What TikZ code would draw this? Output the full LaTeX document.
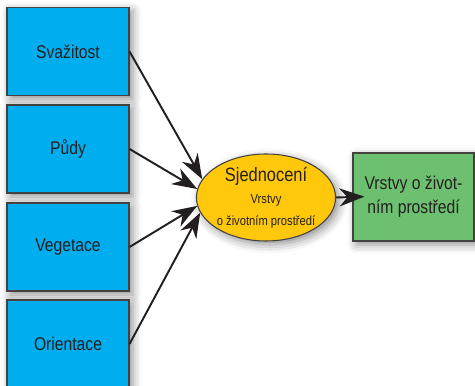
\documentclass[tikz,border=0pt]{standalone}
\usepackage{fontspec}
\setmainfont[FakeStretch=0.85]{Liberation Sans}
\usepackage{xcolor}
\usetikzlibrary{arrows.meta,shapes.geometric,shadows.blur}

\definecolor{vrstvablue}{RGB}{0,174,239}
\definecolor{vrstvayellow}{RGB}{255,200,10}
\definecolor{vrstvagreen}{RGB}{108,192,112}
\definecolor{textgray}{RGB}{35,31,32}

\begin{document}
\begin{tikzpicture}[
		font=\fontsize{10.5}{13.6}\selectfont, text=textgray,
		vstup/.style={draw=textgray!85, line width=0.6pt, fill=vrstvablue, minimum width=2.44cm, minimum height=1.76cm, inner sep=0pt,
			blur shadow={shadow xshift=2pt, shadow yshift=-2pt, shadow blur radius=5pt, shadow opacity=45}},
		sjed/.style={ellipse, draw=textgray!85, line width=0.6pt, fill=vrstvayellow, minimum width=2.68cm, minimum height=1.74cm, inner sep=0pt, align=center,
			blur shadow={shadow xshift=2pt, shadow yshift=-2pt, shadow blur radius=5pt, shadow opacity=45}},
		vystup/.style={draw=textgray!85, line width=0.6pt, fill=vrstvagreen, minimum width=2.42cm, minimum height=1.76cm, inner sep=0pt, align=center,
			blur shadow={shadow xshift=2pt, shadow yshift=-2pt, shadow blur radius=5pt, shadow opacity=45}},
		sipka/.style={-{Stealth[length=0.5cm, width=0.36cm, inset=0.16cm]}, line width=1.1pt, draw=textgray}
	]
	\useasboundingbox (0,0) rectangle (9.5,-7.72);
	
	% Input layers
	\node (svaz) at (1.36,-1.03) [vstup] {Svažitost};
	\node (pudy) at (1.36,-2.98) [vstup] {Půdy};
	\node (vege) at (1.36,-4.94) [vstup] {Vegetace};
	\node (orie) at (1.36,-6.88) [vstup] {Orientace};
	
	% Union
	\node (sjed) at (5.32,-3.95) [sjed] {{\fontsize{11}{13}\selectfont Sjednocení}\\[-1pt]{\fontsize{7.5}{8.8}\selectfont Vrstvy}\\[-1pt]{\fontsize{7.5}{8.8}\selectfont o životním prostředí}};
	
	% Result layer
	\node (vysl) at (8.27,-3.94) [vystup] {Vrstvy o život-\\ním prostředí};
	
	% Connectors
	\draw[sipka] (svaz.east) -- (sjed.164);
	\draw[sipka] (pudy.east) -- (sjed.173);
	\draw[sipka] (vege.east) -- (sjed.187);
	\draw[sipka] (orie.east) -- (sjed.193);
	\draw[sipka, shorten >=-0.24cm] (sjed.east) -- (vysl.west);
\end{tikzpicture}
\end{document}
